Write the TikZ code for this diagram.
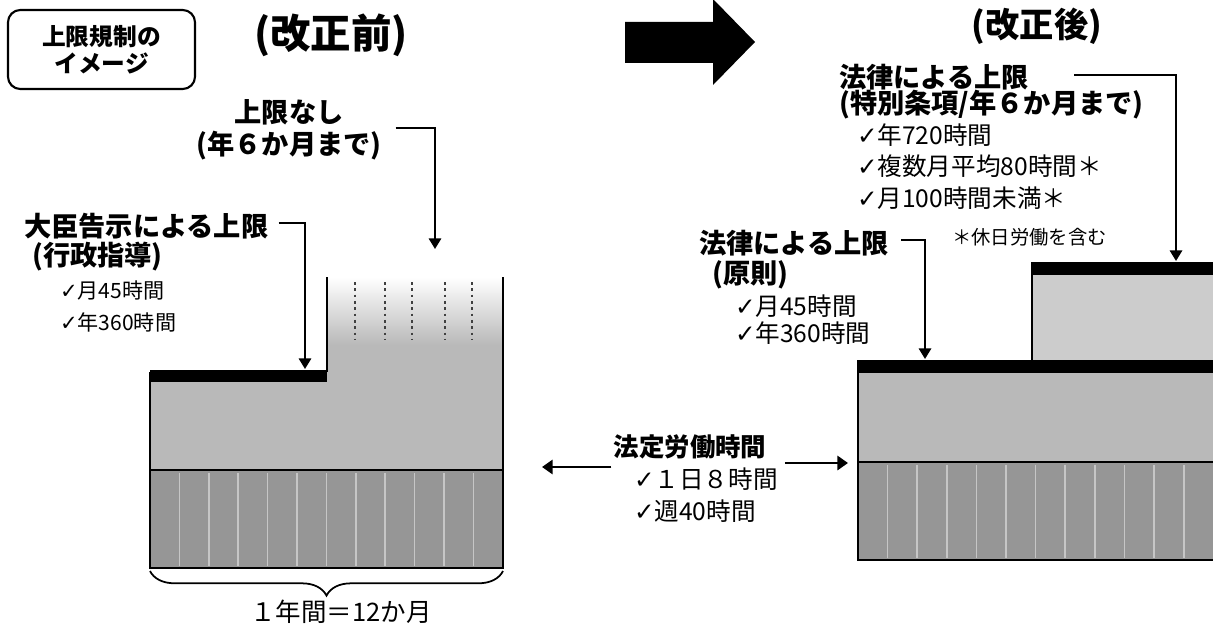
\documentclass[tikz,border=0pt]{standalone}
\usepackage{fontspec}
\setmainfont{Noto Sans CJK JP}
\newfontfamily\ckfont{DejaVu Sans}
\usepackage{tikz}
\usetikzlibrary{positioning,arrows.meta,calc,decorations.pathreplacing}
\newcommand{\ck}{{\ckfont ✓}}

\begin{document}
\begin{tikzpicture}[x=0.2mm, y=-0.2mm,
    head/.style={font=\bfseries\fontsize{15.5}{18}\selectfont, inner sep=1pt},
    item/.style={font=\fontsize{14}{17}\selectfont, inner sep=1pt, anchor=west},
    itemsm/.style={font=\fontsize{12}{15}\selectfont, inner sep=1pt, anchor=west},
    lead/.style={-{Triangle[length=6pt,width=7pt]}, line width=1.1pt},
    both/.style={-{Triangle[length=6pt,width=8pt]}, line width=1.6pt},
    upper/.style={fill=gray!55},
    lower/.style={fill=gray!82},
    rim/.style={line width=1pt}]
    \useasboundingbox (0,0) rectangle (1213,626);

    % 見出し
    \node[draw, line width=1.2pt, rounded corners=7pt, minimum width=37.4mm, minimum height=15.8mm,
          align=center, font=\bfseries\fontsize{13.5}{15.5}\selectfont] (image) at (101.5,49.5) {上限規制の\\イメージ};
    \node[font=\bfseries\fontsize{23}{26}\selectfont, inner sep=0pt] (before) at (331,35) {(改正前)};
    \node[font=\bfseries\fontsize{19.5}{22}\selectfont, inner sep=0pt] (after) at (1037,26) {(改正後)};
    \fill (625,22) -- (713,22) -- (713,-1) -- (755,42) -- (713,85) -- (713,63) -- (625,63) -- cycle;

    % 改正前のグラフ
    \shade[top color=white, bottom color=gray!55] (327,277) rectangle (503,345);
    \fill[upper] (327,345) rectangle (503,382);
    \foreach \x in {355,385,412,445,472} {
        \draw[black!75, line width=1.6pt, dotted] (\x,282) -- (\x,340);
    }
    \fill[upper] (150,382) rectangle (503,470);
    \fill[lower] (150,470) rectangle (503,568);
    \foreach \i in {1,...,11} {
        \draw[gray!45, line width=1pt] ({150+\i*29.4},473) -- ({150+\i*29.4},566);
    }
    \draw[rim] (150,470) -- (503,470);
    \draw[rim] (327,277) -- (327,372);
    \draw[rim] (150,372) -- (150,568) -- (503,568) -- (503,277);
    \fill (150,370) rectangle (327,382);
    \draw[decorate, decoration={brace, mirror, amplitude=14pt}, line width=1pt] (150,571) -- (503,571);
    \node[font=\fontsize{14.5}{17}\selectfont, inner sep=0pt] (year) at (341,612) {１年間＝12か月};

    % 改正前の説明
    \node[head, align=center] (nashi) at (289,130) {上限なし\\(年６か月まで)};
    \node[head, anchor=west] (kokuji) at (22,226) {大臣告示による上限};
    \node[head, anchor=west] (gyosei) at (30,257) {(行政指導)};
    \node[itemsm] (kokujiA) at (58,290) {\ck 月45時間};
    \node[itemsm] (kokujiB) at (58,322) {\ck 年360時間};
    \coordinate (nashiend) at (435,249);
    \coordinate (kokujiend) at (305,369);
    \draw[lead] ($(nashi.east)+(12,-2)$) -| (nashiend);
    \draw[lead] ($(kokuji.east)+(8,-3)$) -| (kokujiend);

    % 改正後のグラフ
    \fill[upper] (858,373) rectangle (1215,462);
    \fill[lower] (858,462) rectangle (1215,560);
    \foreach \i in {1,...,11} {
        \draw[gray!45, line width=1pt] ({858+\i*29.6},465) -- ({858+\i*29.6},558);
    }
    \draw[rim] (858,462) -- (1215,462);
    \draw[rim] (858,360) -- (858,560) -- (1215,560);
    \fill (858,360) rectangle (1215,373);
    \fill[gray!40] (1032,275) rectangle (1215,360);
    \draw[rim] (1032,262) -- (1032,360);
    \fill (1032,262) rectangle (1215,275);

    % 改正後の説明
    \node[head, anchor=west] (horitsuT) at (837,77) {法律による上限};
    \node[head, anchor=west] (tokubetsu) at (837,105) {(特別条項/年６か月まで)};
    \node[item] (tokuA) at (855,135) {\ck 年720時間};
    \node[item] (tokuB) at (855,166) {\ck 複数月平均80時間＊};
    \node[item] (tokuC) at (855,198) {\ck 月100時間未満＊};
    \node[itemsm, font=\fontsize{11}{13}\selectfont] (note) at (950,237) {＊休日労働を含む};
    \node[head, anchor=west] (horitsuG) at (697,243) {法律による上限};
    \node[head, anchor=west] (gensoku) at (710,275) {(原則)};
    \node[item] (genA) at (733,306) {\ck 月45時間};
    \node[item] (genB) at (733,333) {\ck 年360時間};
    \coordinate (tokuend) at (1176,261);
    \coordinate (genend) at (925,359);
    \draw[lead] ($(horitsuT.east)+(43,-2)$) -| (tokuend);
    \draw[lead] ($(horitsuG.east)+(10,-3)$) -| (genend);

    % 法定労働時間
    \node[head, font=\bfseries\fontsize{14.5}{17}\selectfont] (hotei) at (690,447) {法定労働時間};
    \node[item] (hoteiA) at (632,479) {\ck １日８時間};
    \node[item] (hoteiB) at (632,511) {\ck 週40時間};
    \coordinate (toL) at (542,467);
    \coordinate (toR) at (848,463);
    \draw[both] (hotei.west |- toL) -- (toL);
    \draw[both] ($(hoteiA.east |- toR)+(5,0)$) -- (toR);
\end{tikzpicture}
\end{document}
